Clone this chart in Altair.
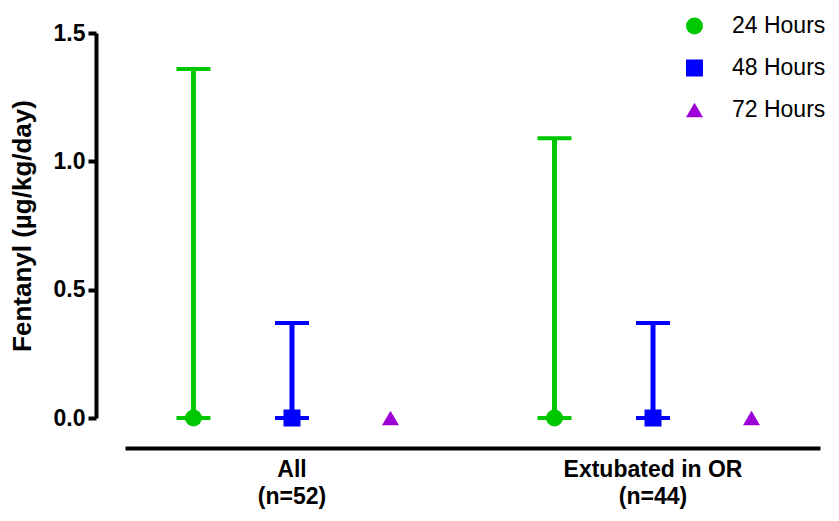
import altair as alt
import pandas as pd

groups = ["All\n(n=52)", "Extubated in OR\n(n=44)"]
times = ["24 Hours", "48 Hours", "72 Hours"]
colors = ["#00c800", "#0000ff", "#9c00d6"]
shapes = ["circle", "square", "triangle-up"]

# median (point) and upper error value per group x time
median_all = [0.0, 0.0, 0.0]
upper_all = [1.36, 0.37, None]
median_ext = [0.0, 0.0, 0.0]
upper_ext = [1.09, 0.37, None]

rows = []
for g, meds, ups in [(groups[0], median_all, upper_all), (groups[1], median_ext, upper_ext)]:
    for t, m, u in zip(times, meds, ups):
        rows.append({"group": g, "time": t, "median": m, "upper": u})
df = pd.DataFrame(rows)

FONT = "Liberation Sans"

x_enc = alt.X("group:N", sort=groups, title=None,
              scale=alt.Scale(paddingInner=0.075, paddingOuter=0),
              axis=alt.Axis(labelExpr="split(datum.label, '\\n')", labelAngle=0,
                            labelFontSize=23, labelFontWeight="bold", labelColor="black",
                            labelLineHeight=27, labelPadding=10, ticks=False,
                            domainColor="black", domainWidth=4, offset=30, labelFont=FONT))
xo_enc = alt.XOffset("time:N", sort=times, scale=alt.Scale(paddingInner=0, paddingOuter=0.195))
y_scale = alt.Scale(domain=[0, 1.5], nice=False)
y_enc = alt.Y("median:Q", scale=y_scale, title="Fentanyl (\u00b5g/kg/day)",
              axis=alt.Axis(values=[0, 0.5, 1.0, 1.5], format=".1f", grid=False,
                            domainColor="black", domainWidth=4, tickColor="black",
                            tickWidth=4, tickSize=8, labelFontSize=23, labelFontWeight="bold",
                            labelColor="black", labelPadding=3, titleFontSize=26,
                            titleFontWeight="bold", titleColor="black", titlePadding=18,
                            offset=29, labelFont=FONT, titleFont=FONT))
color_enc = alt.Color("time:N", sort=times, scale=alt.Scale(domain=times, range=colors),
                      legend=alt.Legend(title=None, orient="none", legendX=558, legendY=-18.5,
                                        labelFontSize=23, labelFont=FONT, labelColor="black",
                                        symbolSize=289, labelOffset=26, rowPadding=18,
                                        padding=0, symbolStrokeWidth=0, symbolOpacity=1))

base = alt.Chart(df)
err = df.dropna(subset=["upper"])

rules = alt.Chart(err).mark_rule(strokeWidth=5, opacity=1).encode(
    x=x_enc, xOffset=xo_enc, y=y_enc, y2="upper:Q", color=color_enc)
cap_top = alt.Chart(err).mark_tick(thickness=4, size=34, opacity=1).encode(
    x=x_enc, xOffset=xo_enc, y=alt.Y("upper:Q", scale=y_scale), color=color_enc)
cap_bot = alt.Chart(err).mark_tick(thickness=4, size=34, opacity=1).encode(
    x=x_enc, xOffset=xo_enc, y=y_enc, color=color_enc)
points = base.mark_point(filled=True, size=289, opacity=1).encode(
    x=x_enc, xOffset=xo_enc, y=y_enc, color=color_enc,
    shape=alt.Shape("time:N", sort=times, scale=alt.Scale(domain=times, range=shapes),
                    legend=alt.Legend(title=None)))

chart = alt.layer(rules, cap_top, cap_bot, points).properties(
    width=695, height=385,
    autosize=alt.AutoSizeParams(type="none"),
    padding={"left": 117, "top": 25, "right": 11, "bottom": 98},
).configure_view(stroke=None).configure_axis(labelFont=FONT, titleFont=FONT)

chart.save("out.html", embed_options={"renderer": "svg", "actions": False})
